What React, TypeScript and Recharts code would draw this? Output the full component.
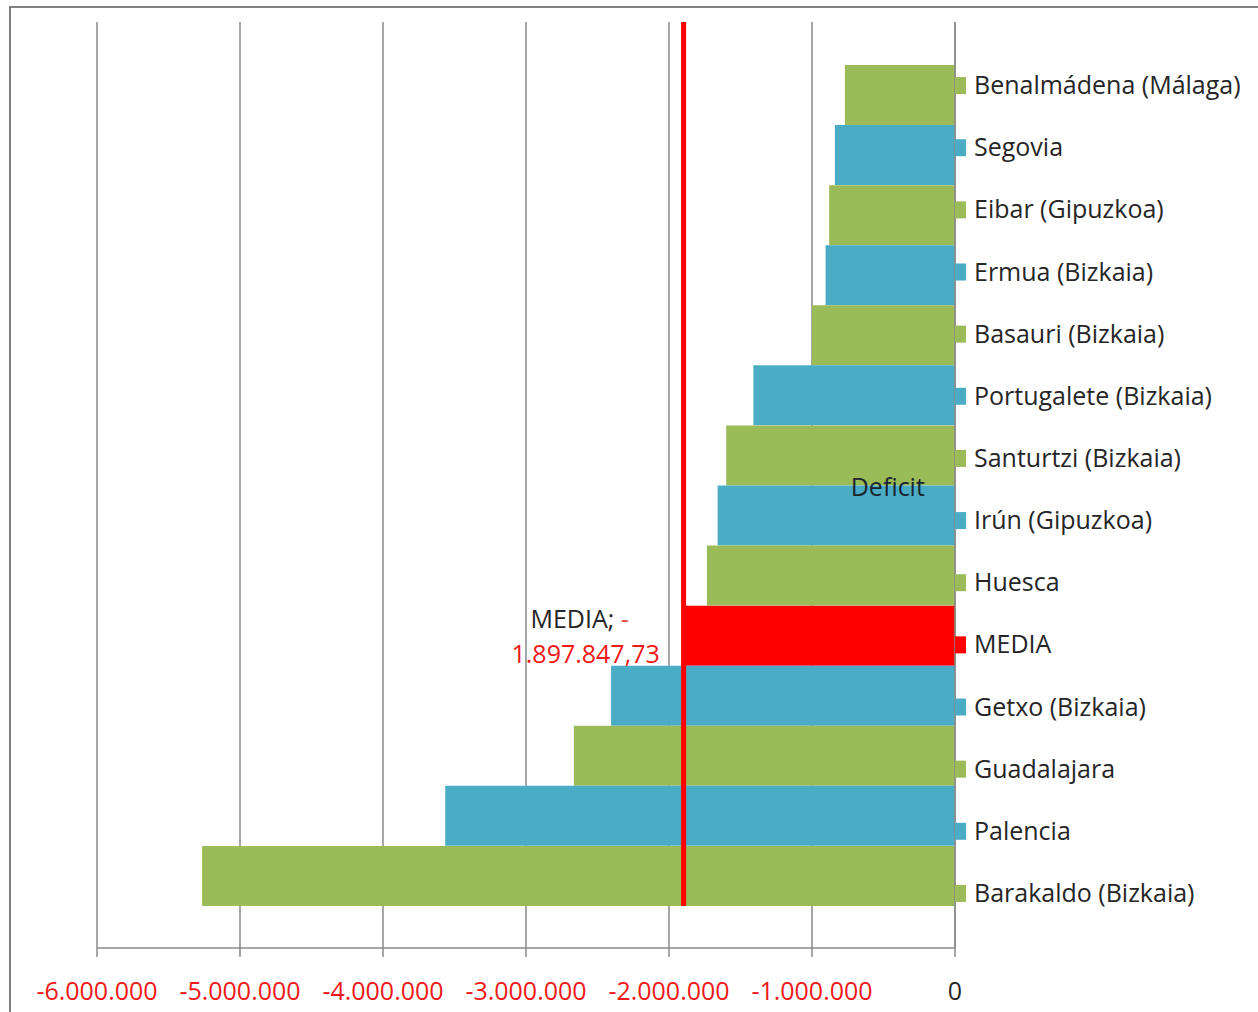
import React from 'react';
import {
  ComposedChart, Bar, XAxis, YAxis, CartesianGrid, Cell, ReferenceLine, ReferenceDot,
} from 'recharts';

const CATEGORIES = [
  'Benalmádena (Málaga)', 'Segovia', 'Eibar (Gipuzkoa)', 'Ermua (Bizkaia)', 'Basauri (Bizkaia)',
  'Portugalete (Bizkaia)', 'Santurtzi (Bizkaia)', 'Irún (Gipuzkoa)', 'Huesca', 'MEDIA',
  'Getxo (Bizkaia)', 'Guadalajara', 'Palencia', 'Barakaldo (Bizkaia)',
];
const DEFICIT = [
  -770000, -840000, -880000, -905000, -1000000, -1410000, -1600000, -1660000, -1735000,
  -1897847.73, -2405000, -2665000, -3565000, -5265000,
];
const BAR_COLORS = [
  '#9BBB59', '#4BACC6', '#9BBB59', '#4BACC6', '#9BBB59', '#4BACC6', '#9BBB59', '#4BACC6', '#9BBB59',
  '#FF0000', '#4BACC6', '#9BBB59', '#4BACC6', '#9BBB59',
];
const X_TICKS = [-6000000, -5000000, -4000000, -3000000, -2000000, -1000000, 0];
const MEDIA = -1897847.73;
const MEDIA_TEXT = '1.897.847,73';

const FONT = '"Open Sans", sans-serif';
const GRID = '#8a8a8a';

const data = CATEGORIES.map((name, i) => ({ name, deficit: DEFICIT[i], color: BAR_COLORS[i] }));

// 1.000.000 style grouping
const fmtInt = (v: number) => {
  const s = Math.abs(Math.round(v)).toString().replace(/\B(?=(\d{3})+(?!\d))/g, '.');
  return (v < 0 ? '-' : '') + s;
};

const XTick = ({ x, y, payload }: any) => (
  <text
    x={x} y={y} dy="0.71em" textAnchor="middle"
    fontFamily={FONT} fontSize={25} fill={payload.value < 0 ? '#F01818' : '#262626'}
  >
    {fmtInt(payload.value)}
  </text>
);

const LegendTick = ({ x, y, payload, index }: any) => (
  <g>
    <rect x={x} y={y - 8} width={11} height={17} fill={BAR_COLORS[index]} />
    <text x={x + 19} y={y - 1} dominantBaseline="central" fontFamily={FONT} fontSize={25} fill="#262626">
      {payload.value}
    </text>
  </g>
);

// "Deficit" sits on the border between two bars (half a band above the dot)
const DeficitLabel = ({ viewBox }: any) => (
  <text
    x={viewBox.x} y={viewBox.y - 30} textAnchor="middle" dominantBaseline="central"
    fontFamily={FONT} fontSize={25} fill="#1A2530"
  >
    Deficit
  </text>
);

const MediaLabel = ({ viewBox }: any) => {
  const cx = viewBox.x - 100;
  const cy = viewBox.y;
  return (
    <g fontFamily={FONT} fontSize={25} textAnchor="middle">
      <text x={cx - 4} y={cy - 18} dominantBaseline="central" fill="#262626">
        MEDIA; <tspan fill="#E05050">-</tspan>
      </text>
      <text x={cx + 2} y={cy + 17} dominantBaseline="central" fill="#F01818">
        {MEDIA_TEXT}
      </text>
    </g>
  );
};

// mean line stops at the bottom edge of the last bar
const MeanLine = (p: any) => {
  const top = Math.min(p.y1, p.y2);
  const bottom = Math.max(p.y1, p.y2);
  return <line x1={p.x1} y1={top} x2={p.x2} y2={bottom - 42} stroke="#FF0000" strokeWidth={5} />;
};

export default function App() {
  return (
    <div style={{ position: 'fixed', left: 0, top: 0, width: 1258, height: 1012, background: '#fff' }}>
      <div
        style={{
          position: 'absolute', left: 9, top: 6, width: 1300, height: 1100,
          borderLeft: '2px solid #808080', borderTop: '2px solid #808080',
        }}
      />
      <div style={{ position: 'absolute', left: 0, top: 0 }}>
        <ComposedChart
          width={1258}
          height={1012}
          data={data}
          layout="vertical"
          margin={{ top: 22, right: 3, bottom: 0, left: 97 }}
          barCategoryGap={0}
        >
          <CartesianGrid horizontal={false} stroke={GRID} strokeWidth={1.5} yAxisId="bars" />
          <XAxis
            type="number"
            domain={[-6000000, 0]}
            ticks={X_TICKS}
            allowDataOverflow
            height={64}
            tick={<XTick />}
            tickSize={9}
            tickMargin={25}
            stroke={GRID}
            strokeWidth={1.5}
          />
          <YAxis yAxisId="bars" type="category" dataKey="name" hide padding={{ top: 43, bottom: 42 }} />
          <YAxis
            yAxisId="legend"
            type="category"
            dataKey="name"
            orientation="right"
            width={300}
            padding={{ top: 32, bottom: 24 }}
            tick={<LegendTick />}
            tickLine={false}
            tickSize={0}
            tickMargin={0}
            stroke={GRID}
            strokeWidth={1.5}
            interval={0}
          />
          <Bar dataKey="deficit" yAxisId="bars" isAnimationActive={false}>
            {data.map((d, i) => (
              <Cell key={i} fill={d.color} />
            ))}
          </Bar>
          <ReferenceLine yAxisId="bars" x={MEDIA} shape={<MeanLine />} />
          <ReferenceDot
            yAxisId="bars" x={-470000} y="Irún (Gipuzkoa)" r={0} stroke="none" fill="none"
            label={<DeficitLabel />}
          />
          <ReferenceDot
            yAxisId="bars" x={MEDIA} y="MEDIA" r={0} stroke="none" fill="none"
            label={<MediaLabel />}
          />
        </ComposedChart>
      </div>
    </div>
  );
}
